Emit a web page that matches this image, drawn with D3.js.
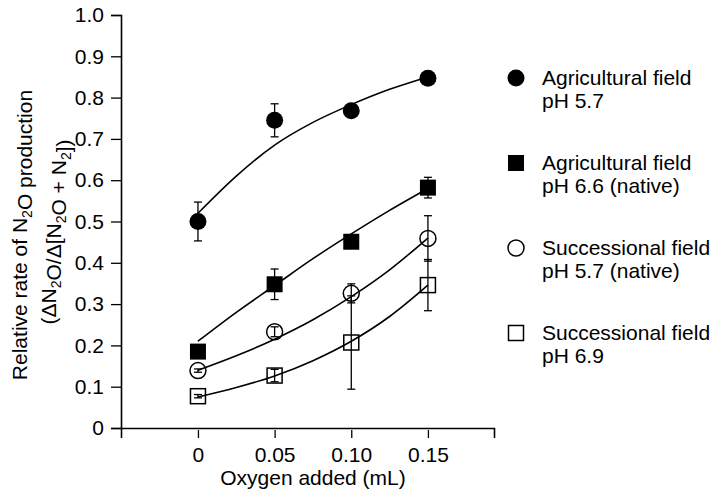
<!DOCTYPE html>
<html>
<head>
<meta charset="utf-8">
<script src="https://cdn.jsdelivr.net/npm/d3@7"></script>
<style>
body { margin: 0; background: #fff; }
svg { display: block; font-family: 'Liberation Sans', Arial, Helvetica, sans-serif; }
</style>
</head>
<body>
<div class="chart"></div>
<script>
'use strict';

// oxygen added (mL)
var oxygen = [0, 0.05, 0.10, 0.15];
var fitOxygen = [0, 0.025, 0.05, 0.075, 0.10, 0.125, 0.15];
var xTicks = [0, 0.05, 0.10, 0.15];
var xTickLabels = ['0', '0.05', '0.10', '0.15'];
var yTicks = [0, 0.1, 0.2, 0.3, 0.4, 0.5, 0.6, 0.7, 0.8, 0.9, 1.0];
var yTickLabels = ['0', '0.1', '0.2', '0.3', '0.4', '0.5', '0.6', '0.7', '0.8', '0.9', '1.0'];

// relative rate, error and the fitted curve
var agri57 = [0.50, 0.745, 0.768, 0.847];
var agri57Err = [0.047, 0.04, 0, 0];
var agri57Fit = [0.52, 0.61, 0.685, 0.74, 0.783, 0.82, 0.85];

var agri66 = [0.185, 0.348, 0.451, 0.582];
var agri66Err = [0.016, 0.037, 0, 0.025];
var agri66Fit = [0.21, 0.28, 0.345, 0.41, 0.47, 0.527, 0.58];

var succ57 = [0.139, 0.233, 0.326, 0.459];
var succ57Err = [0.004, 0.012, 0.023, 0.055];
var succ57Fit = [0.14, 0.175, 0.215, 0.262, 0.318, 0.383, 0.46];

var succ69 = [0.077, 0.127, 0.207, 0.346];
var succ69Err = [0.004, 0.015, 0.113, 0.062];
var succ69Fit = [0.075, 0.098, 0.126, 0.163, 0.21, 0.27, 0.346];

var legendLine1 = ['Agricultural field', 'Agricultural field', 'Successional field', 'Successional field'];
var legendLine2 = ['pH 5.7', 'pH 6.6 (native)', 'pH 5.7 (native)', 'pH 6.9'];

var series = [
    { values: agri57, err: agri57Err, fit: agri57Fit, shape: 'circle', filled: true },
    { values: agri66, err: agri66Err, fit: agri66Fit, shape: 'square', filled: true },
    { values: succ57, err: succ57Err, fit: succ57Fit, shape: 'circle', filled: false },
    { values: succ69, err: succ69Err, fit: succ69Fit, shape: 'square', filled: false }
];

var width = 721;
var height = 495;
var fontSize = 21;

var xScale = d3.scaleLinear()
    .domain([-0.0502, 0.1931])
    .range([121, 494]);

var yScale = d3.scaleLinear()
    .domain([0, 1])
    .range([428, 15]);

var svg = d3.select('div.chart').append('svg')
    .attr('width', width)
    .attr('height', height);

var xAxis = d3.axisBottom(xScale)
    .tickValues(xTicks)
    .tickFormat(function (d, i) { return xTickLabels[i]; })
    .tickSizeOuter(0)
    .tickSize(10)
    .tickPadding(9);

var yAxis = d3.axisLeft(yScale)
    .tickValues(yTicks)
    .tickFormat(function (d, i) { return yTickLabels[i]; })
    .tickSizeOuter(0)
    .tickSize(10)
    .tickPadding(7);

var xAx = svg.append('g')
    .attr('transform', 'translate(0,' + yScale(0) + ')')
    .call(xAxis);

var yAx = svg.append('g')
    .attr('transform', 'translate(' + xScale.range()[0] + ',0)')
    .call(yAxis);

[xAx, yAx].forEach(function (ax) {
    ax.select('.domain').attr('stroke', '#000').attr('stroke-width', 1.6);
    ax.selectAll('.tick line').attr('stroke', '#000').attr('stroke-width', 1.3);
    ax.selectAll('.tick text')
        .attr('fill', '#000')
        .style('font-size', fontSize + 'px')
        .style('font-family', "'Liberation Sans', Arial, sans-serif");
});
xAx.selectAll('.tick line').attr('y1', 2);

// axis titles
svg.append('text')
    .attr('x', 313)
    .attr('y', 485)
    .attr('text-anchor', 'middle')
    .style('font-size', fontSize + 'px')
    .text('Oxygen added (mL)');

function subText(sel, parts) {
    parts.forEach(function (p) {
        if (p.sub) {
            sel.append('tspan').attr('dy', 5).style('font-size', '14px').text(p.t);
            sel.append('tspan').attr('dy', -5).text('');
        } else {
            sel.append('tspan').text(p.t);
        }
    });
}

var yTitle1 = svg.append('text')
    .attr('transform', 'translate(27,235) rotate(-90)')
    .attr('text-anchor', 'middle')
    .style('font-size', fontSize + 'px');
subText(yTitle1, [{ t: 'Relative rate of N' }, { t: '2', sub: true }, { t: 'O production' }]);

var yTitle2 = svg.append('text')
    .attr('transform', 'translate(56,232) rotate(-90)')
    .attr('text-anchor', 'middle')
    .style('font-size', fontSize + 'px');
subText(yTitle2, [
    { t: '(\u0394N' }, { t: '2', sub: true }, { t: 'O/\u0394[N' }, { t: '2', sub: true },
    { t: 'O + N' }, { t: '2', sub: true }, { t: '])' }
]);

var line = d3.line()
    .x(function (d, i) { return xScale(fitOxygen[i]); })
    .y(function (d) { return yScale(d); })
    .curve(d3.curveMonotoneX);

var chart = svg.append('g');

function marker(g, shape, filled) {
    if (shape === 'circle') {
        g.append('circle')
            .attr('r', filled ? 8.5 : 8)
            .attr('fill', filled ? '#000' : 'none')
            .attr('stroke', '#000')
            .attr('stroke-width', filled ? 0 : 1.5);
    } else {
        var s = filled ? 16 : 15;
        g.append('rect')
            .attr('x', -s / 2)
            .attr('y', -s / 2)
            .attr('width', s)
            .attr('height', s)
            .attr('fill', filled ? '#000' : 'none')
            .attr('stroke', '#000')
            .attr('stroke-width', filled ? 0 : 1.5);
    }
}

series.forEach(function (s) {
    chart.append('path')
        .attr('d', line(s.fit))
        .attr('fill', 'none')
        .attr('stroke', '#000')
        .attr('stroke-width', 1.6);

    var bars = chart.append('g').selectAll('g')
        .data(s.values.map(function (v, i) { return { x: oxygen[i], y: v, e: s.err[i] }; })
            .filter(function (d) { return d.e > 0; }))
        .enter().append('g');

    bars.append('line')
        .attr('x1', function (d) { return xScale(d.x); })
        .attr('x2', function (d) { return xScale(d.x); })
        .attr('y1', function (d) { return yScale(d.y - d.e); })
        .attr('y2', function (d) { return yScale(d.y + d.e); })
        .attr('stroke', '#000')
        .attr('stroke-width', 1.3);

    [-1, 1].forEach(function (sign) {
        bars.append('line')
            .attr('x1', function (d) { return xScale(d.x) - 4; })
            .attr('x2', function (d) { return xScale(d.x) + 4; })
            .attr('y1', function (d) { return yScale(d.y + sign * d.e); })
            .attr('y2', function (d) { return yScale(d.y + sign * d.e); })
            .attr('stroke', '#000')
            .attr('stroke-width', 1.3);
    });

    chart.append('g').selectAll('g')
        .data(s.values)
        .enter().append('g')
        .attr('transform', function (d, i) {
            return 'translate(' + xScale(oxygen[i]) + ',' + yScale(d) + ')';
        })
        .each(function () { marker(d3.select(this), s.shape, s.filled); });
});

// legend
var legend = svg.append('g');
series.forEach(function (s, i) {
    var ly = 78 + i * 85;
    var g = legend.append('g').attr('transform', 'translate(516,' + ly + ')');
    marker(g, s.shape, s.filled);
    g.append('text')
        .attr('x', 26)
        .attr('y', 7)
        .style('font-size', fontSize + 'px')
        .text(legendLine1[i]);
    g.append('text')
        .attr('x', 26)
        .attr('y', 30)
        .style('font-size', fontSize + 'px')
        .text(legendLine2[i]);
});
</script>
</body>
</html>
